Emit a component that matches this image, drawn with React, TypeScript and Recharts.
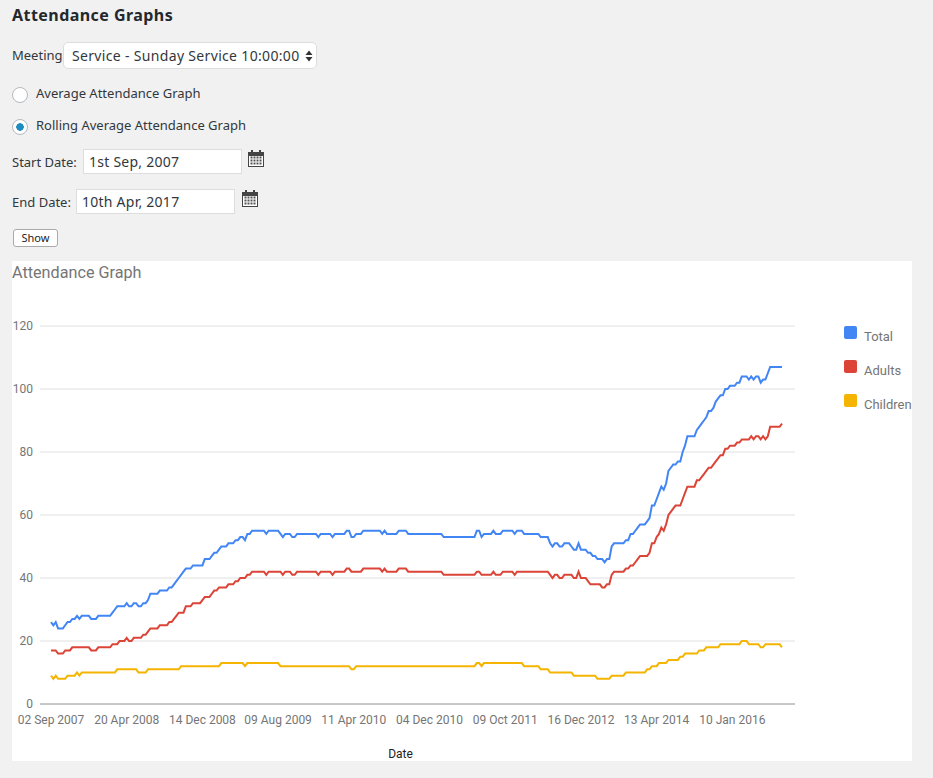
import React from 'react';
import { LineChart, Line, XAxis, YAxis, CartesianGrid, Legend } from 'recharts';

const tickIndexes = [0, 32, 64, 96, 128, 160, 192, 224, 256, 288];
const tickLabels = ['02 Sep 2007', '20 Apr 2008', '14 Dec 2008', '09 Aug 2009', '11 Apr 2010', '04 Dec 2010', '09 Oct 2011', '16 Dec 2012', '13 Apr 2014', '10 Jan 2016'];
const yTicks = [0, 20, 40, 60, 80, 100, 120];
const seriesNames = ['Total', 'Adults', 'Children'];
const seriesColors = ['#4285f4', '#db4437', '#f4b400'];

const total = [
  26,25,26,24,24,24,25,26,26,27,
  27,28,27,28,28,28,28,27,27,27,
  28,28,28,28,28,28,29,30,31,31,
  31,31,32,31,31,32,32,31,31,32,
  32,33,35,35,35,35,36,36,36,36,
  37,37,38,39,40,41,42,43,43,43,
  44,44,44,44,44,46,46,46,47,48,
  48,49,50,50,50,51,51,51,52,52,
  53,53,52,54,54,55,55,55,55,55,
  55,54,55,55,55,55,55,54,53,54,
  54,54,53,53,54,54,54,54,54,54,
  54,54,54,53,54,54,54,54,54,53,
  54,54,54,54,54,55,55,53,53,54,
  54,54,55,55,55,55,55,55,55,55,
  54,55,54,54,54,54,54,55,55,55,
  55,54,54,54,54,54,54,54,54,54,
  54,54,54,54,54,54,53,53,53,53,
  53,53,53,53,53,53,53,53,53,53,
  55,55,53,54,54,54,54,55,54,54,
  54,55,55,55,55,55,54,55,55,55,
  54,54,54,54,54,54,54,53,53,53,
  53,51,50,51,51,50,50,51,51,51,
  50,49,49,51,49,49,49,48,48,47,
  47,46,46,46,45,46,46,50,51,51,
  51,51,51,52,52,54,54,55,56,57,
  57,57,58,59,63,63,65,67,69,68,
  70,74,75,76,76,77,77,80,82,85,
  85,85,85,87,88,89,90,91,93,93,
  94,96,97,98,98,100,100,101,101,101,
  102,102,104,104,104,103,104,103,104,104,
  102,103,103,105,107,107,107,107,107,107,
];

const adults = [
  17,17,17,16,16,16,17,17,17,18,
  18,18,18,18,18,18,18,17,17,17,
  18,18,18,18,18,18,19,19,19,20,
  20,20,21,20,20,21,21,21,21,22,
  22,23,24,24,24,24,25,25,25,25,
  26,26,27,28,29,29,29,31,31,31,
  32,32,32,32,33,34,34,34,35,36,
  36,37,37,37,37,38,38,38,39,39,
  40,40,40,41,41,42,42,42,42,42,
  42,41,42,42,42,42,42,42,41,42,
  42,42,41,41,42,42,42,42,42,42,
  42,42,42,41,42,42,42,42,42,41,
  42,42,42,42,42,43,43,42,42,42,
  42,42,43,43,43,43,43,43,43,43,
  42,43,42,42,42,42,42,43,43,43,
  43,42,42,42,42,42,42,42,42,42,
  42,42,42,42,42,42,41,41,41,41,
  41,41,41,41,41,41,41,41,41,41,
  42,42,41,41,41,41,41,42,41,41,
  41,42,42,42,42,42,41,42,42,42,
  42,42,42,42,42,42,42,42,42,42,
  42,41,40,41,41,40,40,41,41,41,
  41,40,40,42,40,40,40,39,38,38,
  38,38,38,37,37,38,38,41,42,42,
  42,42,42,43,43,44,44,45,46,47,
  47,47,47,48,51,51,53,54,56,55,
  57,60,61,62,63,63,63,65,67,69,
  69,69,69,71,71,72,73,74,75,75,
  76,77,78,79,79,81,81,82,82,82,
  83,83,84,84,84,84,85,84,85,85,
  84,85,84,85,88,88,88,88,88,89,
];

const children = [
  9,8,9,8,8,8,8,9,9,9,
  9,10,9,10,10,10,10,10,10,10,
  10,10,10,10,10,10,10,10,11,11,
  11,11,11,11,11,11,11,10,10,10,
  10,11,11,11,11,11,11,11,11,11,
  11,11,11,11,11,12,12,12,12,12,
  12,12,12,12,12,12,12,12,12,12,
  12,12,13,13,13,13,13,13,13,13,
  13,13,12,13,13,13,13,13,13,13,
  13,13,13,13,13,13,13,12,12,12,
  12,12,12,12,12,12,12,12,12,12,
  12,12,12,12,12,12,12,12,12,12,
  12,12,12,12,12,12,12,11,11,12,
  12,12,12,12,12,12,12,12,12,12,
  12,12,12,12,12,12,12,12,12,12,
  12,12,12,12,12,12,12,12,12,12,
  12,12,12,12,12,12,12,12,12,12,
  12,12,12,12,12,12,12,12,12,12,
  13,13,12,13,13,13,13,13,13,13,
  13,13,13,13,13,13,13,13,13,13,
  12,12,12,12,12,12,12,11,11,11,
  11,10,10,10,10,10,10,10,10,10,
  10,9,9,9,9,9,9,9,9,9,
  9,8,8,8,8,8,8,9,9,9,
  9,9,9,10,10,10,10,10,10,10,
  10,10,11,11,12,12,12,13,13,13,
  13,14,14,14,14,14,15,15,16,16,
  16,16,16,16,17,17,17,18,18,18,
  18,18,18,19,19,19,19,19,19,19,
  19,19,20,20,20,19,19,19,19,19,
  18,18,19,19,19,19,19,19,19,18,
];

const rows = total.map((t, i) => ({ i, total: t, adults: adults[i], children: children[i] }));

const uiFont = '"Noto Sans", "Liberation Sans", sans-serif';
const chartFont = 'Roboto, sans-serif';

const at = (left: number, top: number, extra: React.CSSProperties = {}): React.CSSProperties => ({
  position: 'absolute', left, top, fontFamily: uiFont, fontSize: 13, color: '#32373c', whiteSpace: 'nowrap', lineHeight: '18px', ...extra,
});

function CalendarIcon({ left, top }: { left: number; top: number }) {
  const cells = [];
  for (const r of [0, 1, 2]) for (const c of [0, 1, 2, 3]) cells.push(<rect key={`${r}-${c}`} x={2.5 + c * 3} y={6.5 + r * 3} width={2} height={2} fill="#555" />);
  return (
    <svg width={17} height={18} style={{ position: 'absolute', left, top }}>
      <rect x={0.5} y={2.5} width={15} height={14} fill="#fff" stroke="#444" />
      <rect x={0} y={2} width={16} height={4} fill="#444" />
      <rect x={3} y={0} width={2} height={4} fill="#444" />
      <rect x={11} y={0} width={2} height={4} fill="#444" />
      {cells}
    </svg>
  );
}

function Radio({ top, checked }: { top: number; checked: boolean }) {
  return (
    <input type="radio" name="graph" checked={checked} readOnly style={{
      appearance: 'none', position: 'absolute', left: 12, top, width: 16, height: 16, margin: 0, borderRadius: '50%',
      border: '1px solid #b4b9be', boxSizing: 'border-box',
      background: checked ? 'radial-gradient(circle, #1e8cbe 0 3.5px, #fff 4px)' : '#fff',
    }} />
  );
}

const fieldStyle = (left: number, top: number, width: number): React.CSSProperties => ({
  position: 'absolute', left, top, width, height: 25, boxSizing: 'border-box', border: '1px solid #ddd', background: '#fff',
  padding: '0 5px', margin: 0, fontFamily: uiFont, fontSize: 14, letterSpacing: 0.25, color: '#32373c', outline: 'none',
});

function LegendBox() {
  return (
    <div>
      {seriesNames.map((name, k) => (
        <div key={name} style={{ position: 'absolute', left: 0, top: k * 34, width: 80, height: 20 }}>
          <div style={{ position: 'absolute', left: 0, top: 0, width: 12.5, height: 13, borderRadius: 2, background: seriesColors[k] }} />
          <div style={{ position: 'absolute', left: 20, top: 3, fontFamily: chartFont, fontSize: 13, lineHeight: '16px', color: '#757575', whiteSpace: 'nowrap' }}>{name}</div>
        </div>
      ))}
    </div>
  );
}

export default function App() {
  return (
    <div style={{ position: 'absolute', left: 0, top: 0, width: 933, height: 778, background: '#f1f1f1', overflow: 'hidden' }}>
      <div style={at(12, 4, { fontSize: 16, fontWeight: 700, letterSpacing: 0.45, color: '#23282d', lineHeight: '22px' })}>Attendance Graphs</div>

      <div style={at(12, 46)}>Meeting</div>
      <select defaultValue="s" style={{
        appearance: 'none', position: 'absolute', left: 63, top: 42, width: 254, height: 27, boxSizing: 'border-box', margin: 0,
        border: '1px solid #ddd', borderRadius: 5, background: '#fff', padding: '0 8px', fontFamily: uiFont, fontSize: 14, letterSpacing: 0.33, color: '#32373c', outline: 'none',
      }}>
        <option value="s">Service - Sunday Service 10:00:00</option>
      </select>
      <svg width={8} height={12} style={{ position: 'absolute', left: 305, top: 50 }}>
        <path d="M0.5 5 L4 0.5 L7.5 5 Z M0.5 7 L4 11.5 L7.5 7 Z" fill="#333" />
      </svg>

      <Radio top={87} checked={false} />
      <div style={at(36, 84)}>Average Attendance Graph</div>
      <Radio top={119} checked={true} />
      <div style={at(36, 116)}>Rolling Average Attendance Graph</div>

      <div style={at(12, 153)}>Start Date:</div>
      <input readOnly value="1st Sep, 2007" style={fieldStyle(83, 149, 159)} />
      <CalendarIcon left={248} top={150} />

      <div style={at(12, 193)}>End Date:</div>
      <input readOnly value="10th Apr, 2017" style={fieldStyle(76, 189, 159)} />
      <CalendarIcon left={242} top={190} />

      <button style={{
        position: 'absolute', left: 13, top: 229, width: 45, height: 18, padding: 0, boxSizing: 'border-box', border: '1px solid #aaa',
        borderRadius: 3, background: '#fff', fontFamily: uiFont, fontSize: 11, color: '#222', lineHeight: '14px',
      }}>Show</button>

      <div style={{ position: 'absolute', left: 12, top: 261, width: 900, height: 500, background: '#fff' }}>
        <div style={{ position: 'absolute', left: 0, top: 2, fontFamily: chartFont, fontSize: 16.2, lineHeight: '20px', color: '#757575', whiteSpace: 'nowrap' }}>Attendance Graph</div>
        <LineChart width={900} height={500} data={rows} margin={{ top: 65, right: 117, bottom: 0, left: 0 }}>
          <CartesianGrid horizontal vertical={false} stroke="#e0e0e0" strokeWidth={1} />
          <XAxis
            dataKey="i" type="number" domain={[0, 309]} ticks={tickIndexes} interval={0} height={57}
            padding={{ left: 11, right: 13 }} tickLine={false} axisLine={{ stroke: '#9e9e9e' }} tickMargin={5}
            tick={{ fontFamily: chartFont, fontSize: 12, fill: '#757575' }}
            tickFormatter={(v: number) => tickLabels[tickIndexes.indexOf(v)]}
            label={{ value: 'Date', position: 'insideBottom', dx: -17, dy: 2, style: { fontFamily: chartFont, fontSize: 12, fill: '#222' } }}
          />
          <YAxis
            type="number" domain={[0, 120]} ticks={yTicks} width={28} tickLine={false} axisLine={false} tickSize={0} tickMargin={7} interval={0}
            tick={{ fontFamily: chartFont, fontSize: 12, fill: '#757575' }}
          />
          <Legend layout="vertical" align="center" verticalAlign="middle" content={<LegendBox />}
            wrapperStyle={{ position: 'absolute', left: 832, top: 65, width: 68, height: 90, margin: 0 }} />
          <Line dataKey="total" name="Total" type="linear" stroke={seriesColors[0]} strokeWidth={2} dot={false} isAnimationActive={false} />
          <Line dataKey="adults" name="Adults" type="linear" stroke={seriesColors[1]} strokeWidth={2} dot={false} isAnimationActive={false} />
          <Line dataKey="children" name="Children" type="linear" stroke={seriesColors[2]} strokeWidth={2} dot={false} isAnimationActive={false} />
        </LineChart>
      </div>
    </div>
  );
}
